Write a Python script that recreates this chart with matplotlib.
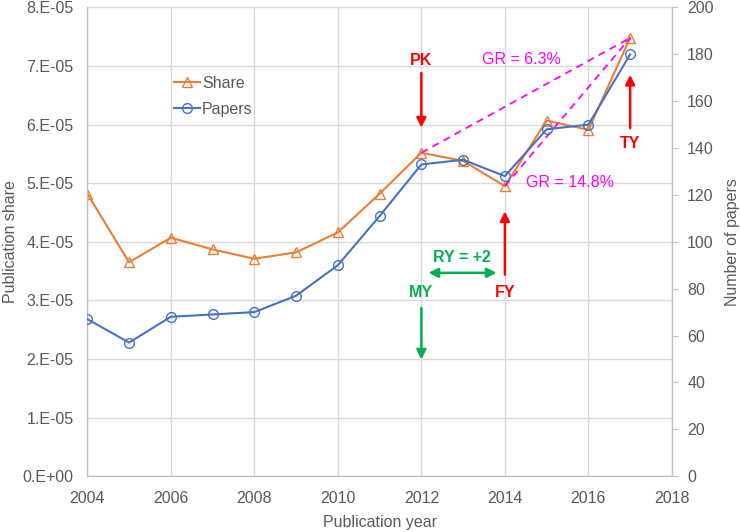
import matplotlib
matplotlib.use("Agg")
import matplotlib.pyplot as plt

years = [2004, 2005, 2006, 2007, 2008, 2009, 2010, 2011, 2012, 2013, 2014, 2015, 2016, 2017]
share = [4.82e-5, 3.65e-5, 4.07e-5, 3.87e-5, 3.71e-5, 3.82e-5, 4.16e-5, 4.82e-5, 5.52e-5, 5.38e-5, 4.95e-5, 6.07e-5, 5.91e-5, 7.48e-5]
papers = [67, 57, 68, 69, 70, 77, 90, 111, 133, 135, 128, 148, 150, 180]
left_ticks = [0, 1e-5, 2e-5, 3e-5, 4e-5, 5e-5, 6e-5, 7e-5, 8e-5]
left_labels = ["0.E+00", "1.E-05", "2.E-05", "3.E-05", "4.E-05", "5.E-05", "6.E-05", "7.E-05", "8.E-05"]
right_ticks = [0, 20, 40, 60, 80, 100, 120, 140, 160, 180, 200]
x_ticks = [2004, 2006, 2008, 2010, 2012, 2014, 2016, 2018]

plt.rcParams['font.family'] = ['Liberation Sans', 'DejaVu Sans']

ORANGE = '#ED7D31'
BLUE = '#4472C4'
GRAY = '#595959'
GRID = '#D9D9D9'
RED = '#FF0000'
GREEN = '#00B050'
MAG = '#FF00FF'
FS = 11.5

fig = plt.figure(figsize=(7.4, 5.32), dpi=100)
ax = fig.add_axes([0.118, 0.105, 0.79, 0.881])
ax2 = ax.twinx()

ax.set_xlim(2004, 2018)
ax.set_ylim(0, 8e-5)
ax2.set_ylim(0, 200)

ax.set_xticks(x_ticks)
ax.set_yticks(left_ticks)
ax.set_yticklabels(left_labels)
ax2.set_yticks(right_ticks)
ax.grid(True, color=GRID, lw=1.0)
ax.set_axisbelow(True)

for a in (ax, ax2):
    for s in a.spines.values():
        s.set_color('#BFBFBF')
    a.spines['top'].set_visible(False)
ax.tick_params(axis='x', length=0, colors=GRAY, labelsize=FS, pad=11)
ax.tick_params(axis='y', length=0, colors=GRAY, labelsize=FS, pad=10)
ax2.tick_params(axis='y', length=4, color='#BFBFBF', labelcolor=GRAY, labelsize=FS, pad=7)

ax.set_xlabel('Publication year', color=GRAY, fontsize=FS, labelpad=6)
ax.set_ylabel('Publication share', color=GRAY, fontsize=FS, labelpad=3)
ax2.set_ylabel('Number of papers', color=GRAY, fontsize=FS, labelpad=8)

l1, = ax.plot(years, share, color=ORANGE, lw=1.5, marker='^', ms=7.5, mfc='none', mec=ORANGE, mew=1.0, label='Share', zorder=4)
l2, = ax2.plot(years, papers, color=BLUE, lw=1.5, marker='o', ms=7, mfc='none', mec=BLUE, mew=1.0, label='Papers', zorder=3)

# dashed growth lines (on share axis)
ax.plot([years[8], years[13]], [share[8], share[13]], color=MAG, ls=(0, (4, 3)), lw=1.3, zorder=5)
ax.plot([years[10], years[13]], [share[10], share[13]], color=MAG, ls=(0, (4, 3)), lw=1.3, zorder=5)

ax2.legend(handles=[l1, l2], loc='upper left', bbox_to_anchor=(0.143, 0.861), frameon=False,
           fontsize=FS, labelcolor=GRAY, handlelength=1.6, handletextpad=0.15, labelspacing=0.7,
           borderpad=0.2, borderaxespad=0)

def arrow(x0, y0, x1, y1, color, style='-|>'):
    ax2.annotate('', xy=(x1, y1), xytext=(x0, y0), xycoords=ax.transData, textcoords=ax.transData,
                 arrowprops=dict(arrowstyle=style, color=color, lw=1.8, mutation_scale=14, shrinkA=0, shrinkB=0),
                 zorder=10)

def label(x, y, s, color, bold=True):
    ax2.text(x, y, s, color=color, fontsize=FS, fontweight='bold' if bold else 'normal',
             ha='center', va='center', transform=ax.transData, zorder=11)

label(2012, 7.1e-5, 'PK', RED)
arrow(2012, 6.88e-5, 2012, 5.95e-5, RED)
label(2017, 5.67e-5, 'TY', RED)
arrow(2017, 5.94e-5, 2017, 6.85e-5, RED)
label(2014, 3.13e-5, 'FY', RED)
arrow(2014, 3.44e-5, 2014, 4.52e-5, RED)
label(2012, 3.13e-5, 'MY', GREEN)
arrow(2012, 2.87e-5, 2012, 1.99e-5, GREEN)
label(2012.96, 3.73e-5, 'RY = +2', GREEN)
arrow(2012.17, 3.47e-5, 2013.8, 3.47e-5, GREEN, style='<|-|>')
label(2014.4, 7.12e-5, 'GR = 6.3%', MAG, bold=False)
label(2015.55, 5.01e-5, 'GR = 14.8%', MAG, bold=False)

fig.savefig('out.png', dpi=100)
